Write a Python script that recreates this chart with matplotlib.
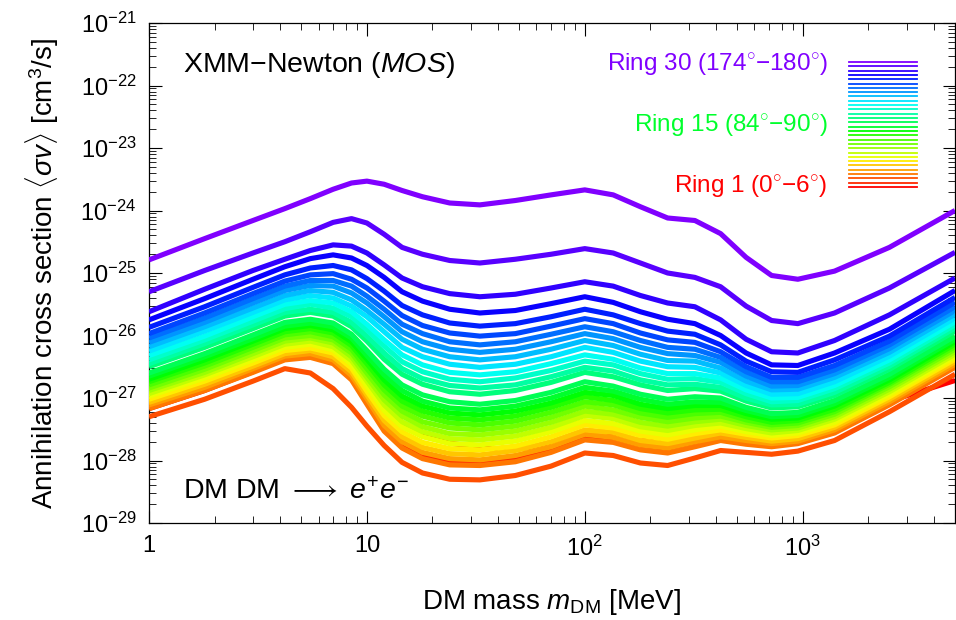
import numpy as np
import matplotlib
matplotlib.use("Agg")
import matplotlib.pyplot as plt
from matplotlib.colors import hsv_to_rgb
from matplotlib.ticker import FixedLocator, FuncFormatter, LogLocator, NullFormatter

plt.rcParams['font.family'] = ['Liberation Sans', 'DejaVu Sans']
plt.rcParams['mathtext.fontset'] = 'custom'
plt.rcParams['mathtext.rm'] = 'Liberation Sans'
plt.rcParams['mathtext.it'] = 'Liberation Sans:italic'
plt.rcParams['mathtext.bf'] = 'Liberation Sans:bold'

#-- DM mass grid [MeV], shared by all rings
mass = [1, 1.8, 3, 4.2, 5.5, 7, 8.5, 10, 12, 14.5, 18, 24, 33, 48, 70, 100,
        135, 180, 240, 320, 420, 550, 720, 950, 1400, 2500, 5000]

#-- log10 <sigma v> [cm^3/s] per ring (ring 1 = 0-6 deg ... ring 30 = 174-180 deg)
ring_01 = [-27.17, -26.88, -26.58, -26.25, -26.17, -26.35, -26.55, -26.85, -27.15, -27.40, -27.58, -27.72, -27.80, -27.82, -27.75, -27.60, -27.62, -27.68, -27.70, -27.66, -27.63, -27.68, -27.72, -27.65, -27.45, -27.05, -26.72]
ring_02 = [-27.15, -26.86, -26.57, -26.37, -26.33, -26.42, -26.67, -27.07, -27.49, -27.76, -27.93, -28.03, -28.04, -27.98, -27.83, -27.63, -27.68, -27.80, -27.85, -27.75, -27.66, -27.71, -27.76, -27.71, -27.54, -27.09, -26.49]
ring_03 = [-27.30, -27.02, -26.73, -26.53, -26.60, -26.85, -27.15, -27.45, -27.76, -28.03, -28.20, -28.30, -28.31, -28.24, -28.09, -27.88, -27.92, -28.04, -28.08, -27.96, -27.84, -27.87, -27.90, -27.85, -27.68, -27.22, -26.62]
ring_04 = [-27.17, -26.88, -26.59, -26.39, -26.35, -26.45, -26.71, -27.10, -27.53, -27.80, -27.97, -28.07, -28.08, -28.02, -27.87, -27.67, -27.71, -27.83, -27.88, -27.78, -27.68, -27.74, -27.78, -27.73, -27.56, -27.11, -26.51]
ring_05 = [-27.11, -26.83, -26.53, -26.33, -26.29, -26.39, -26.64, -27.01, -27.44, -27.70, -27.87, -27.97, -27.99, -27.92, -27.78, -27.58, -27.63, -27.75, -27.80, -27.70, -27.62, -27.68, -27.73, -27.69, -27.51, -27.06, -26.46]
ring_06 = [-27.07, -26.78, -26.49, -26.29, -26.24, -26.34, -26.58, -26.95, -27.36, -27.62, -27.79, -27.89, -27.91, -27.84, -27.70, -27.51, -27.55, -27.68, -27.73, -27.64, -27.56, -27.63, -27.69, -27.65, -27.47, -27.02, -26.42]
ring_07 = [-27.02, -26.73, -26.44, -26.24, -26.20, -26.28, -26.52, -26.89, -27.28, -27.54, -27.71, -27.81, -27.83, -27.77, -27.62, -27.43, -27.48, -27.60, -27.66, -27.57, -27.51, -27.58, -27.64, -27.60, -27.43, -26.98, -26.38]
ring_08 = [-26.97, -26.68, -26.39, -26.19, -26.14, -26.23, -26.46, -26.81, -27.20, -27.46, -27.62, -27.73, -27.75, -27.69, -27.54, -27.36, -27.41, -27.53, -27.59, -27.51, -27.45, -27.54, -27.60, -27.56, -27.39, -26.94, -26.34]
ring_09 = [-26.93, -26.63, -26.34, -26.14, -26.09, -26.18, -26.40, -26.73, -27.11, -27.38, -27.54, -27.65, -27.67, -27.61, -27.47, -27.28, -27.33, -27.46, -27.52, -27.44, -27.40, -27.49, -27.56, -27.52, -27.34, -26.90, -26.30]
ring_10 = [-26.88, -26.59, -26.29, -26.09, -26.04, -26.12, -26.34, -26.67, -27.03, -27.29, -27.46, -27.57, -27.59, -27.53, -27.39, -27.21, -27.26, -27.39, -27.45, -27.38, -27.34, -27.44, -27.51, -27.48, -27.30, -26.86, -26.26]
ring_11 = [-26.84, -26.54, -26.24, -26.04, -26.00, -26.07, -26.28, -26.60, -26.95, -27.21, -27.38, -27.48, -27.51, -27.45, -27.31, -27.13, -27.19, -27.31, -27.38, -27.32, -27.29, -27.39, -27.47, -27.44, -27.26, -26.82, -26.22]
ring_12 = [-26.79, -26.49, -26.19, -25.99, -25.94, -26.02, -26.22, -26.53, -26.87, -27.13, -27.29, -27.40, -27.43, -27.37, -27.23, -27.06, -27.11, -27.24, -27.31, -27.25, -27.23, -27.35, -27.43, -27.40, -27.22, -26.78, -26.18]
ring_13 = [-26.74, -26.44, -26.14, -25.94, -25.89, -25.96, -26.16, -26.45, -26.79, -27.05, -27.21, -27.32, -27.35, -27.29, -27.15, -26.98, -27.04, -27.17, -27.24, -27.19, -27.18, -27.30, -27.39, -27.36, -27.18, -26.75, -26.14]
ring_14 = [-26.70, -26.39, -26.09, -25.89, -25.84, -25.91, -26.10, -26.38, -26.71, -26.97, -27.13, -27.24, -27.27, -27.21, -27.08, -26.91, -26.96, -27.10, -27.17, -27.12, -27.12, -27.25, -27.34, -27.32, -27.13, -26.71, -26.10]
ring_15 = [-26.65, -26.34, -26.05, -25.85, -25.80, -25.86, -26.04, -26.32, -26.63, -26.88, -27.05, -27.16, -27.19, -27.13, -27.00, -26.83, -26.89, -27.02, -27.10, -27.06, -27.07, -27.20, -27.30, -27.28, -27.09, -26.67, -26.06]
ring_16 = [-26.60, -26.29, -25.99, -25.79, -25.74, -25.80, -25.98, -26.24, -26.54, -26.79, -26.95, -27.06, -27.10, -27.04, -26.91, -26.74, -26.81, -26.94, -27.02, -26.98, -27.00, -27.15, -27.25, -27.23, -27.04, -26.62, -26.01]
ring_17 = [-26.50, -26.19, -25.89, -25.69, -25.63, -25.69, -25.86, -26.09, -26.38, -26.62, -26.78, -26.90, -26.94, -26.88, -26.75, -26.59, -26.66, -26.79, -26.88, -26.85, -26.89, -27.05, -27.16, -27.14, -26.96, -26.54, -25.93]
ring_18 = [-26.45, -26.13, -25.83, -25.63, -25.58, -25.63, -25.79, -26.01, -26.28, -26.53, -26.69, -26.80, -26.84, -26.79, -26.66, -26.51, -26.57, -26.71, -26.79, -26.78, -26.83, -27.00, -27.11, -27.10, -26.91, -26.49, -25.88]
ring_19 = [-26.39, -26.07, -25.77, -25.57, -25.50, -25.56, -25.70, -25.91, -26.17, -26.42, -26.58, -26.70, -26.74, -26.68, -26.56, -26.41, -26.47, -26.61, -26.70, -26.69, -26.75, -26.93, -27.06, -27.04, -26.85, -26.44, -25.83]
ring_20 = [-26.32, -26.01, -25.70, -25.50, -25.44, -25.48, -25.62, -25.82, -26.07, -26.31, -26.47, -26.59, -26.63, -26.58, -26.45, -26.31, -26.38, -26.52, -26.61, -26.61, -26.68, -26.87, -27.00, -26.99, -26.80, -26.39, -25.78]
ring_21 = [-26.25, -25.93, -25.63, -25.43, -25.36, -25.40, -25.53, -25.70, -25.94, -26.19, -26.34, -26.46, -26.51, -26.46, -26.34, -26.19, -26.27, -26.41, -26.50, -26.51, -26.60, -26.80, -26.94, -26.93, -26.74, -26.33, -25.72]
ring_22 = [-26.18, -25.86, -25.56, -25.36, -25.28, -25.31, -25.43, -25.60, -25.82, -26.06, -26.22, -26.34, -26.39, -26.34, -26.22, -26.08, -26.16, -26.30, -26.40, -26.41, -26.52, -26.73, -26.87, -26.86, -26.67, -26.27, -25.66]
ring_23 = [-26.11, -25.79, -25.48, -25.28, -25.20, -25.21, -25.32, -25.48, -25.70, -25.94, -26.10, -26.22, -26.27, -26.22, -26.10, -25.97, -26.05, -26.19, -26.29, -26.32, -26.43, -26.65, -26.81, -26.80, -26.61, -26.21, -25.60]
ring_24 = [-26.04, -25.72, -25.41, -25.21, -25.12, -25.12, -25.21, -25.37, -25.58, -25.82, -25.97, -26.10, -26.15, -26.10, -25.98, -25.86, -25.94, -26.08, -26.19, -26.22, -26.35, -26.58, -26.74, -26.74, -26.55, -26.15, -25.54]
ring_25 = [-25.97, -25.64, -25.33, -25.13, -25.03, -25.01, -25.10, -25.24, -25.45, -25.68, -25.84, -25.96, -26.01, -25.97, -25.85, -25.73, -25.81, -25.96, -26.07, -26.11, -26.26, -26.50, -26.67, -26.67, -26.48, -26.09, -25.47]
ring_26 = [-25.87, -25.54, -25.23, -25.03, -24.92, -24.88, -24.95, -25.09, -25.29, -25.52, -25.67, -25.80, -25.85, -25.81, -25.70, -25.58, -25.67, -25.81, -25.93, -25.98, -26.15, -26.41, -26.58, -26.59, -26.39, -26.01, -25.39]
ring_27 = [-25.75, -25.41, -25.10, -24.90, -24.77, -24.71, -24.76, -24.88, -25.07, -25.30, -25.45, -25.58, -25.64, -25.60, -25.49, -25.38, -25.47, -25.62, -25.74, -25.81, -26.00, -26.28, -26.47, -26.48, -26.28, -25.90, -25.28]
ring_28 = [-25.62, -25.26, -24.96, -24.78, -24.64, -24.55, -24.57, -24.68, -24.87, -25.08, -25.22, -25.33, -25.38, -25.34, -25.24, -25.14, -25.21, -25.36, -25.48, -25.54, -25.75, -26.06, -26.26, -26.28, -26.08, -25.67, -25.08]
ring_29 = [-25.30, -24.96, -24.68, -24.50, -24.34, -24.19, -24.13, -24.20, -24.38, -24.59, -24.70, -24.80, -24.84, -24.78, -24.70, -24.61, -24.68, -24.84, -25.00, -25.07, -25.22, -25.53, -25.76, -25.81, -25.64, -25.24, -24.67]
ring_30 = [-24.79, -24.45, -24.16, -23.97, -23.81, -23.66, -23.56, -23.53, -23.58, -23.68, -23.78, -23.88, -23.91, -23.84, -23.75, -23.67, -23.75, -23.94, -24.12, -24.16, -24.37, -24.75, -25.04, -25.10, -24.97, -24.59, -24.00]

rings = [ring_01, ring_02, ring_03, ring_04, ring_05, ring_06, ring_07, ring_08, ring_09, ring_10,
         ring_11, ring_12, ring_13, ring_14, ring_15, ring_16, ring_17, ring_18, ring_19, ring_20,
         ring_21, ring_22, ring_23, ring_24, ring_25, ring_26, ring_27, ring_28, ring_29, ring_30]

n_ring = len(rings)

def ring_color(i):
    # red (ring 1) -> purple (ring 30)
    return hsv_to_rgb((0.75 * i / (n_ring - 1), 1.0, 1.0))

fig = plt.figure(figsize=(9.56, 6.2), dpi=100)
ax = fig.add_axes([149/956, 97/620, 806/956, 500/620])

for i, logsv in enumerate(rings):
    ax.plot(mass, 10.0**np.array(logsv), color=ring_color(i), lw=3.7,
            solid_joinstyle='round', solid_capstyle='butt', zorder=2+i)

ax.set_xscale('log'); ax.set_yscale('log')
ax.set_xlim(1, 5000); ax.set_ylim(1e-29, 1e-21)

#-- colour key of the rings
x0, x1 = 0.868, 0.953
yb, yt = 0.672, 0.922
for i in range(n_ring):
    yy = yb + i * (yt - yb) / (n_ring - 1)
    ax.plot([x0, x1], [yy, yy], transform=ax.transAxes, color=ring_color(i), lw=1.3, zorder=50)

ax.text(0.842, 0.918, r'Ring 30 (174$^{\circ}$$-$180$^{\circ}$)', transform=ax.transAxes,
        ha='right', va='center', fontsize=17.5, color=ring_color(29))
ax.text(0.842, 0.796, r'Ring 15 (84$^{\circ}$$-$90$^{\circ}$)', transform=ax.transAxes,
        ha='right', va='center', fontsize=17.5, color=ring_color(14))
ax.text(0.842, 0.674, r'Ring 1 (0$^{\circ}$$-$6$^{\circ}$)', transform=ax.transAxes,
        ha='right', va='center', fontsize=17.5, color=ring_color(0))

ax.text(0.042, 0.916, r'XMM$-$Newton ($MOS$)', transform=ax.transAxes,
        ha='left', va='center', fontsize=20.5)
ax.text(0.042, 0.062, r'DM DM $\longrightarrow$ $e^{+}e^{-}$', transform=ax.transAxes,
        ha='left', va='center', fontsize=20.5)

#-- ticks
def xfmt(v, pos):
    if v == 1:
        return '1'
    if v == 10:
        return '10'
    return r'$10^{%d}$' % round(np.log10(v))

ax.xaxis.set_major_locator(FixedLocator([1, 10, 100, 1000]))
ax.xaxis.set_major_formatter(FuncFormatter(xfmt))
ax.xaxis.set_minor_locator(LogLocator(base=10, subs=np.arange(2, 10), numticks=20))
ax.xaxis.set_minor_formatter(NullFormatter())

ax.yaxis.set_major_locator(FixedLocator([10.0**k for k in range(-29, -20)]))
ax.yaxis.set_major_formatter(FuncFormatter(lambda v, p: r'$10^{%d}$' % round(np.log10(v))))
ax.yaxis.set_minor_locator(LogLocator(base=10, subs=np.arange(2, 10), numticks=20))
ax.yaxis.set_minor_formatter(NullFormatter())

ax.tick_params(which='both', direction='in', top=True, right=True, labelsize=17)
ax.tick_params(which='major', length=9, width=0.8, pad=9)
ax.tick_params(which='minor', length=5, width=0.6)
for s in ax.spines.values():
    s.set_linewidth(0.9)

ax.set_xlabel(r'DM mass $m_{\rm DM}$ [MeV]', fontsize=20, labelpad=19)
ax.set_ylabel(r'Annihilation cross section $\langle\sigma v\rangle$ [cm$^3$/s]', fontsize=20, labelpad=14)

fig.savefig('out.png', dpi=100)
